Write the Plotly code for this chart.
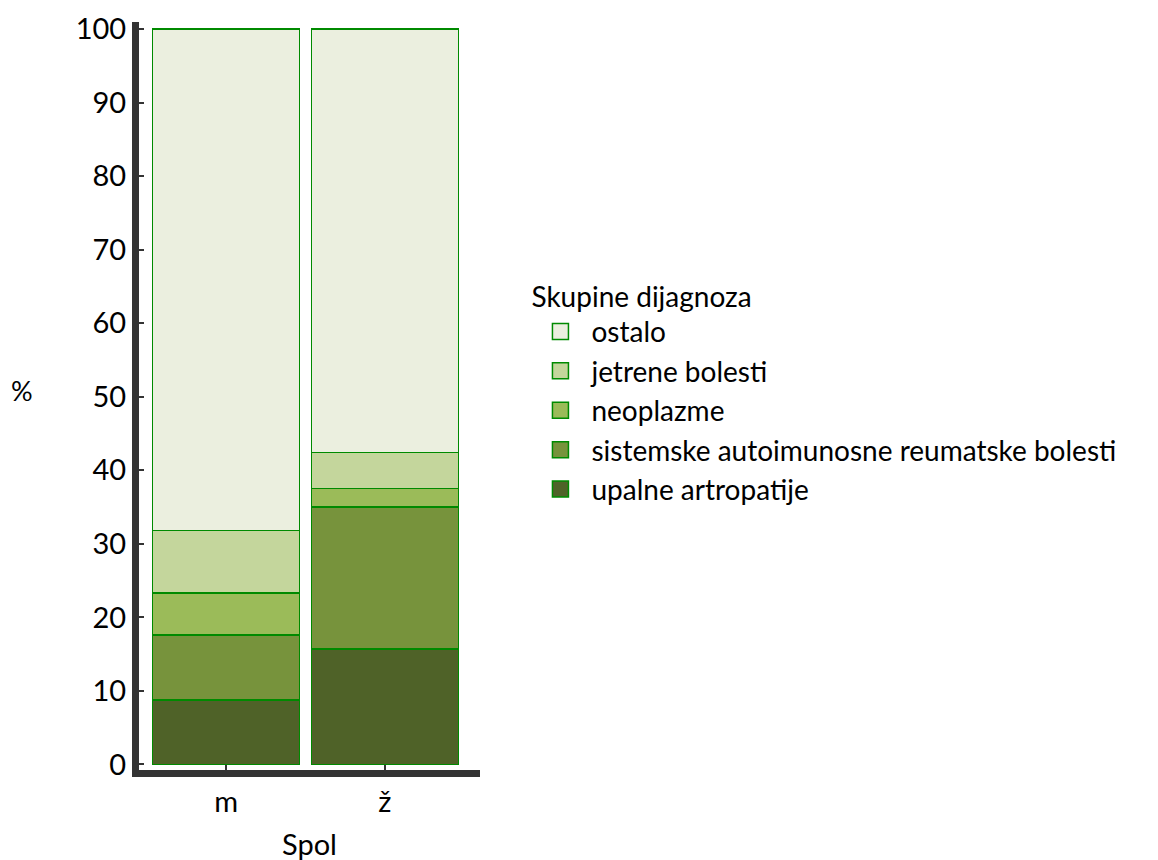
import plotly.graph_objects as go

categories = ["m", "ž"]
series_names = ["upalne artropatije", "sistemske autoimunosne reumatske bolesti",
                "neoplazme", "jetrene bolesti", "ostalo"]
upalne = [8.8, 15.7]
sistemske = [8.8, 19.3]
neoplazme = [5.7, 2.5]
jetrene = [8.5, 4.9]
ostalo = [68.2, 57.6]
colors = ["#4F6228", "#77933C", "#9BBB59", "#C4D69C", "#EBEFDF"]
y_ticks = [0, 10, 20, 30, 40, 50, 60, 70, 80, 90, 100]

FONT = "Lato, Carlito, Calibri, sans-serif"
EDGE = "#008A00"
FS = 29
LFS = 28

fig = go.Figure()
for name, vals, col in zip(series_names, [upalne, sistemske, neoplazme, jetrene, ostalo], colors):
    fig.add_trace(go.Bar(
        x=categories, y=vals, name=name, width=0.925, showlegend=False,
        marker=dict(color=col, line=dict(color=EDGE, width=1.5)),
    ))
# legend entries (larger square swatches)
for name, col in zip(series_names, colors):
    fig.add_trace(go.Scatter(
        x=[None], y=[None], name=name, mode="markers",
        marker=dict(symbol="square", size=16, color=col, line=dict(color=EDGE, width=1.5)),
    ))

fig.update_layout(
    width=1150, height=852,
    barmode="stack",
    paper_bgcolor="white", plot_bgcolor="white",
    margin=dict(l=131, r=678, t=14, b=90, autoexpand=False),
    font=dict(family=FONT, size=FS, color="black"),
    showlegend=True,
    legend=dict(
        title=dict(text="Skupine dijagnoza", font=dict(size=LFS)),
        traceorder="reversed",
        x=1.145, xanchor="left", y=0.668, yanchor="top",
        font=dict(size=LFS),
        itemwidth=52,
        tracegroupgap=0,
    ),
    xaxis=dict(
        range=[-0.549, 1.599],
        automargin=False,
        showline=True, linecolor="#333333", linewidth=7,
        ticks="inside", ticklen=5, tickwidth=2, tickcolor="#333333",
        showgrid=False, zeroline=False,
        tickfont=dict(size=FS),
    ),
    yaxis=dict(
        range=[-0.75, 100.95],
        automargin=False,
        tickvals=y_ticks,
        showline=True, linecolor="#333333", linewidth=7,
        ticks="inside", ticklen=5, tickwidth=2, tickcolor="#333333",
        showgrid=False, zeroline=False,
        tickfont=dict(size=FS),
    ),
    annotations=[
        dict(text="%", x=-0.343, y=0.508, xref="paper", yref="paper",
             xanchor="center", yanchor="middle",
             showarrow=False, font=dict(size=FS - 2)),
        dict(text="Spol", x=0.501, y=-0.0976, xref="paper", yref="paper",
             xanchor="center", yanchor="middle",
             showarrow=False, font=dict(size=FS)),
    ],
)

fig.write_html("out.html")
